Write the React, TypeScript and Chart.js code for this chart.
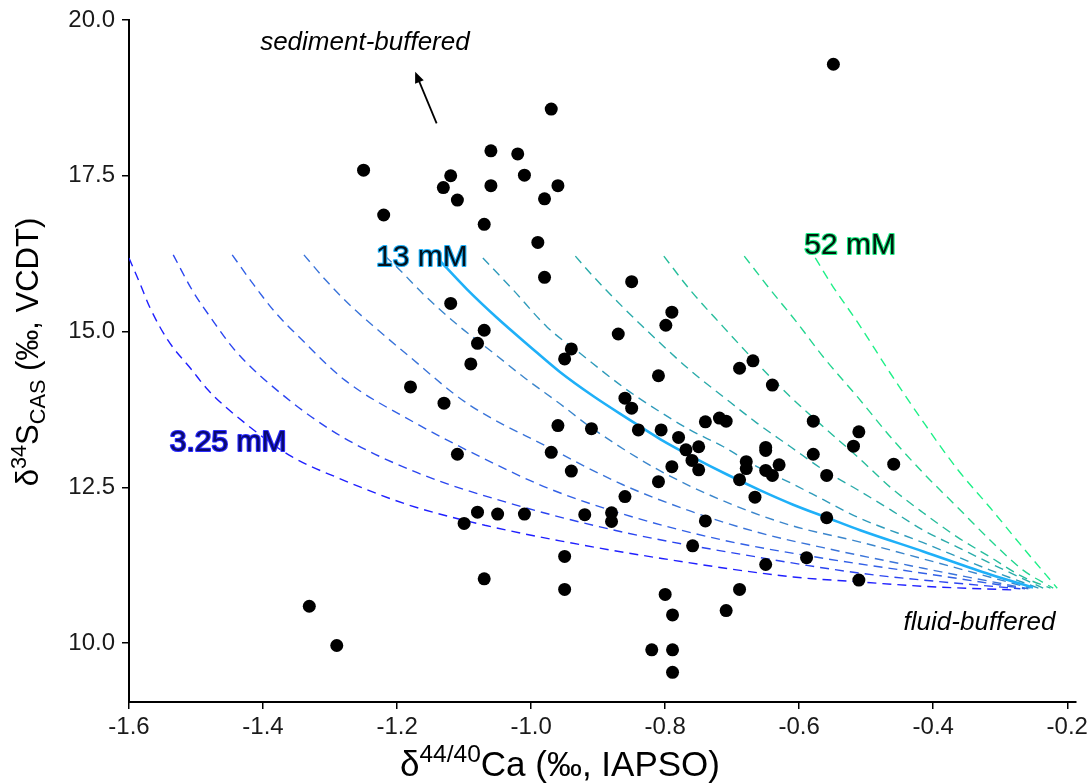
import { useEffect, useRef } from "react";
import { Chart, registerables } from "chart.js";

Chart.register(...registerables);

// ---- measured samples (δ44/40Ca, δ34S_CAS) ----
const ca44 = [
  -0.549, -0.970, -1.250, -1.220, -1.120, -1.131, -1.110, -1.060, -1.060, -1.020,
  -1.010, -0.960, -0.980, -1.070, -0.990, -0.980, -1.120, -1.070, -1.080, -1.090,
  -1.180, -0.940, -0.950, -1.130, -0.960, -0.910, -1.110, -0.970, -0.940, -1.080,
  -1.100, -1.050, -1.010, -0.920, -0.950, -1.070, -0.950, -1.331, -1.290, -0.810,
  -0.689, -0.669, -0.640, -0.860, -0.850, -0.840, -0.806, -0.740, -0.719, -0.709,
  -0.780, -0.769, -0.750, -0.760, -0.750, -0.790, -0.810, -0.860, -0.880, -0.880,
  -0.740, -0.689, -0.666, -0.679, -0.679, -0.650, -0.650, -0.630, -0.650, -0.640,
  -0.579, -0.579, -0.511, -0.519, -0.559, -0.559, -0.759, -0.650, -0.589, -0.511,
  -0.800, -0.789, -0.689, -0.709, -0.820, -0.789, -0.789, -0.850, -0.790, -0.799,
  -0.870, -0.459,
];
const s34 = [
  19.29, 18.57, 17.59, 16.87, 17.50, 17.31, 17.11, 17.90, 17.34, 17.85,
  17.51, 17.34, 17.13, 16.72, 16.43, 15.87, 15.45, 15.02, 14.81, 14.48,
  14.11, 14.72, 14.56, 13.85, 13.49, 13.44, 13.03, 13.06, 12.76, 12.10,
  11.92, 12.07, 12.07, 12.06, 11.39, 11.03, 10.86, 10.59, 9.96, 14.29,
  14.41, 14.53, 14.14, 13.93, 13.77, 13.42, 13.42, 13.55, 13.61, 13.56,
  13.30, 13.10, 13.15, 12.93, 12.78, 12.83, 12.59, 12.35, 12.09, 11.95,
  11.96, 12.62, 12.34, 12.91, 12.80, 13.14, 13.09, 12.86, 12.77, 12.69,
  13.56, 13.03, 13.39, 13.16, 12.69, 12.01, 11.56, 11.26, 11.37, 11.01,
  10.78, 10.45, 10.86, 10.52, 9.89, 9.89, 9.53, 15.80, 15.31, 15.10,
  14.96, 12.87,
];

// ---- axis ticks ----
const xTicks = [-1.6, -1.4, -1.2, -1.0, -0.8, -0.6, -0.4, -0.2];
const yTicks = [10.0, 12.5, 15.0, 17.5, 20.0];

// ---- model curves, [δ44Ca, δ34S] ----
const curve1 = [[-1.600,16.18],[-1.584,15.78],[-1.569,15.39],[-1.542,14.86],[-1.506,14.38],[-1.482,14.06],[-1.427,13.53],[-1.357,12.99],[-1.288,12.65],[-1.184,12.22],[-1.069,11.89],[-0.957,11.64],[-0.807,11.36],[-0.609,11.06],[-0.509,10.98],[-0.415,10.91],[-0.278,10.85]];
const curve2 = [[-1.534,16.23],[-1.506,15.67],[-1.476,15.19],[-1.442,14.70],[-1.367,13.95],[-1.282,13.31],[-1.169,12.73],[-1.034,12.25],[-0.863,11.78],[-0.663,11.38],[-0.509,11.12],[-0.415,11.01],[-0.270,10.87]];
const curve3 = [[-1.446,16.23],[-1.416,15.78],[-1.382,15.31],[-1.345,14.90],[-1.278,14.22],[-1.176,13.55],[-1.076,12.99],[-0.976,12.49],[-0.863,12.07],[-0.713,11.65],[-0.564,11.36],[-0.415,11.12],[-0.263,10.87]];
const curve4 = [[-1.339,16.23],[-1.307,15.83],[-1.267,15.39],[-1.228,15.02],[-1.184,14.62],[-1.096,13.85],[-0.976,13.15],[-0.863,12.54],[-0.763,12.12],[-0.663,11.78],[-0.564,11.53],[-0.415,11.20],[-0.258,10.87]];
const curve5 = [[-1.218,16.21],[-1.199,16.02],[-1.158,15.57],[-1.109,15.10],[-1.058,14.67],[-1.009,14.25],[-0.957,13.84],[-0.912,13.47],[-0.812,12.79],[-0.713,12.28],[-0.613,11.89],[-0.509,11.62],[-0.415,11.35],[-0.255,10.88]];
const curve6 = [[-1.140,16.18],[-1.096,15.68],[-1.051,15.22],[-1.002,14.76],[-0.957,14.35],[-0.907,13.96],[-0.857,13.61],[-0.807,13.27],[-0.758,12.98],[-0.707,12.70],[-0.658,12.45],[-0.609,12.22],[-0.558,12.01],[-0.509,11.81],[-0.415,11.47],[-0.315,11.10],[-0.251,10.89]];
const curve7 = [[-1.072,16.18],[-1.027,15.67],[-0.976,15.07],[-0.927,14.65],[-0.863,14.11],[-0.812,13.74],[-0.763,13.42],[-0.713,13.15],[-0.663,12.83],[-0.613,12.57],[-0.564,12.30],[-0.513,12.02],[-0.415,11.61],[-0.315,11.17],[-0.243,10.88]];
const curve8 = [[-0.934,16.21],[-0.912,15.94],[-0.863,15.39],[-0.812,14.86],[-0.763,14.38],[-0.713,13.95],[-0.663,13.53],[-0.613,13.15],[-0.564,12.78],[-0.513,12.46],[-0.464,12.14],[-0.415,11.81],[-0.364,11.54],[-0.315,11.28],[-0.236,10.88]];
const curve9 = [[-0.802,16.21],[-0.763,15.67],[-0.713,15.07],[-0.663,14.49],[-0.613,13.95],[-0.564,13.47],[-0.513,12.99],[-0.464,12.50],[-0.415,12.09],[-0.364,11.70],[-0.315,11.38],[-0.266,11.06],[-0.225,10.88]];
const curve10 = [[-0.682,16.21],[-0.643,15.67],[-0.603,15.14],[-0.564,14.59],[-0.513,13.95],[-0.464,13.31],[-0.415,12.73],[-0.364,12.18],[-0.315,11.65],[-0.266,11.17],[-0.221,10.88]];
const curve11 = [[-0.576,16.18],[-0.549,15.71],[-0.513,15.15],[-0.464,14.33],[-0.415,13.55],[-0.364,12.79],[-0.315,12.17],[-0.266,11.53],[-0.215,10.88]];

const curves = [curve1, curve2, curve3, curve4, curve5, curve6, curve7, curve8, curve9, curve10, curve11];
const curveNames = ["3.25 mM", "4.29 mM", "5.66 mM", "7.46 mM", "9.85 mM", "13 mM", "17.2 mM", "22.6 mM", "29.9 mM", "39.4 mM", "52 mM"];
const curveColors = ["#1f1fff", "#2b45f0", "#3260e6", "#3a74d9", "#3b86cc", "#1fb0f8", "#2f9bbb", "#2aabaa", "#27bd9c", "#24d590", "#1ff088"];
const solidIndex = 5;

// ---- text annotations ----
const curveLabels = [
  { text: "3.25 mM", x: -1.452, y: 13.21, fill: "#0a0a70", halo: "#2a2aff" },
  { text: "13 mM", x: -1.163, y: 16.19, fill: "#06121c", halo: "#1fb0f8" },
  { text: "52 mM", x: -0.524, y: 16.38, fill: "#031a0c", halo: "#1ff088" },
];
const noteLabels = [
  { text: "sediment-buffered", x: -1.248, y: 19.63 },
  { text: "fluid-buffered", x: -0.331, y: 10.32 },
];
const arrowFrom = [-1.141, 18.34];
const arrowTo = [-1.173, 19.17];

const FONT = '"Liberation Sans", Arial, Helvetica, sans-serif';

type Part = { t: string; k?: "sup" | "sub" };
const xTitle: Part[] = [{ t: "δ" }, { t: "44/40", k: "sup" }, { t: "Ca (‰, IAPSO)" }];
const yTitle: Part[] = [{ t: "δ" }, { t: "34", k: "sup" }, { t: "S" }, { t: "CAS", k: "sub" }, { t: " (‰, VCDT)" }];

function drawRich(ctx: CanvasRenderingContext2D, parts: Part[], cx: number, cy: number, size: number, rot: number) {
  ctx.save();
  ctx.translate(cx, cy);
  if (rot) ctx.rotate(rot);
  const f = (p: Part) => `${p.k ? size * 0.7 : size}px ${FONT}`;
  const widths = parts.map((p) => {
    ctx.font = f(p);
    return ctx.measureText(p.t).width;
  });
  const total = widths.reduce((a, b) => a + b, 0);
  let xx = -total / 2;
  ctx.textAlign = "left";
  ctx.textBaseline = "alphabetic";
  ctx.fillStyle = "#000";
  parts.forEach((p, i) => {
    ctx.font = f(p);
    const dy = p.k === "sup" ? -size * 0.4 : p.k === "sub" ? size * 0.22 : 0;
    ctx.fillText(p.t, xx, dy);
    xx += widths[i];
  });
  ctx.restore();
}

const annotationPlugin = {
  id: "annotations",
  afterDatasetsDraw(chart: any) {
    const { ctx, scales } = chart;
    const px = (v: number) => scales.x.getPixelForValue(v);
    const py = (v: number) => scales.y.getPixelForValue(v);
    ctx.save();
    ctx.textAlign = "center";
    ctx.textBaseline = "middle";
    curveLabels.forEach((l) => {
      ctx.font = `30px ${FONT}`;
      ctx.lineJoin = "round";
      ctx.lineWidth = 2.2;
      ctx.strokeStyle = l.halo;
      ctx.strokeText(l.text, px(l.x), py(l.y));
      ctx.fillStyle = l.fill;
      ctx.fillText(l.text, px(l.x), py(l.y));
    });
    noteLabels.forEach((l) => {
      ctx.font = `italic 26px ${FONT}`;
      ctx.fillStyle = "#000";
      ctx.fillText(l.text, px(l.x), py(l.y));
    });
    // arrow
    const x0 = px(arrowFrom[0]), y0 = py(arrowFrom[1]);
    const x1 = px(arrowTo[0]), y1 = py(arrowTo[1]);
    const ang = Math.atan2(y1 - y0, x1 - x0);
    const head = 12;
    ctx.strokeStyle = "#000";
    ctx.lineWidth = 1.8;
    ctx.beginPath();
    ctx.moveTo(x0, y0);
    ctx.lineTo(x1 - Math.cos(ang) * head * 0.6, y1 - Math.sin(ang) * head * 0.6);
    ctx.stroke();
    ctx.fillStyle = "#000";
    ctx.beginPath();
    ctx.moveTo(x1, y1);
    ctx.lineTo(x1 - head * Math.cos(ang - 0.4), y1 - head * Math.sin(ang - 0.4));
    ctx.lineTo(x1 - head * Math.cos(ang + 0.4), y1 - head * Math.sin(ang + 0.4));
    ctx.closePath();
    ctx.fill();
    ctx.restore();
  },
  afterDraw(chart: any) {
    const { ctx } = chart;
    drawRich(ctx, xTitle, 560, 776, 35, 0);
    drawRich(ctx, yTitle, 38, 352, 31, -Math.PI / 2);
  },
};

export default function App() {
  const ref = useRef<HTMLCanvasElement | null>(null);
  useEffect(() => {
    if (!ref.current) return;
    const datasets: any[] = [
      {
        label: "samples",
        data: ca44.map((x, i) => ({ x, y: s34[i] })),
        showLine: false,
        pointRadius: 6.5,
        pointHoverRadius: 6.5,
        pointBackgroundColor: "#000",
        pointBorderWidth: 0,
        borderWidth: 0,
        order: 0,
      },
      ...curves.map((c, i) => ({
        label: curveNames[i],
        data: c.map(([x, y]) => ({ x, y })),
        borderColor: curveColors[i],
        borderWidth: i === solidIndex ? 2.6 : 1.4,
        borderDash: i === solidIndex ? [] : [9, 6],
        pointRadius: 0,
        cubicInterpolationMode: "monotone",
        fill: false,
        order: i === solidIndex ? 1 : 2,
      })),
    ];
    const chart = new Chart(ref.current, {
      type: "line",
      data: { datasets },
      options: {
        responsive: false,
        animation: false,
        events: [],
        layout: { padding: { top: 20, right: 15, left: 0, bottom: 0 } },
        plugins: { legend: { display: false }, tooltip: { enabled: false } },
        scales: {
          x: {
            type: "linear",
            min: -1.6,
            max: -0.187,
            afterBuildTicks: (s: any) => { s.ticks = xTicks.map((v) => ({ value: v })); },
            afterFit: (s: any) => { s.height = 81; s.paddingLeft = 0; s.paddingRight = 0; },
            border: { display: true, color: "#000", width: 2 },
            grid: { display: true, drawOnChartArea: false, drawTicks: true, tickLength: 7, color: "#000", lineWidth: 1.5 },
            ticks: {
              color: "#1a1a1a",
              font: { family: FONT, size: 24 },
              padding: 4,
              maxRotation: 0,
              autoSkip: false,
              callback: (v: any) => Number(v).toFixed(1),
            },
          },
          y: {
            type: "linear",
            min: 9.053,
            max: 20,
            afterBuildTicks: (s: any) => { s.ticks = yTicks.map((v) => ({ value: v })); },
            afterFit: (s: any) => { s.width = 129; s.paddingTop = 0; s.paddingBottom = 0; },
            border: { display: true, color: "#000", width: 2 },
            grid: { display: true, drawOnChartArea: false, drawTicks: true, tickLength: 7, color: "#000", lineWidth: 1.5 },
            ticks: {
              color: "#1a1a1a",
              font: { family: FONT, size: 24 },
              padding: 7,
              autoSkip: false,
              callback: (v: any) => Number(v).toFixed(1),
            },
          },
        },
      },
      plugins: [annotationPlugin],
    } as any);
    return () => chart.destroy();
  }, []);
  return (
    <div style={{ position: "fixed", left: 0, top: 0, width: 1091, height: 783, background: "#fff" }}>
      <canvas ref={ref} width={1091} height={783} style={{ display: "block" }} />
    </div>
  );
}
